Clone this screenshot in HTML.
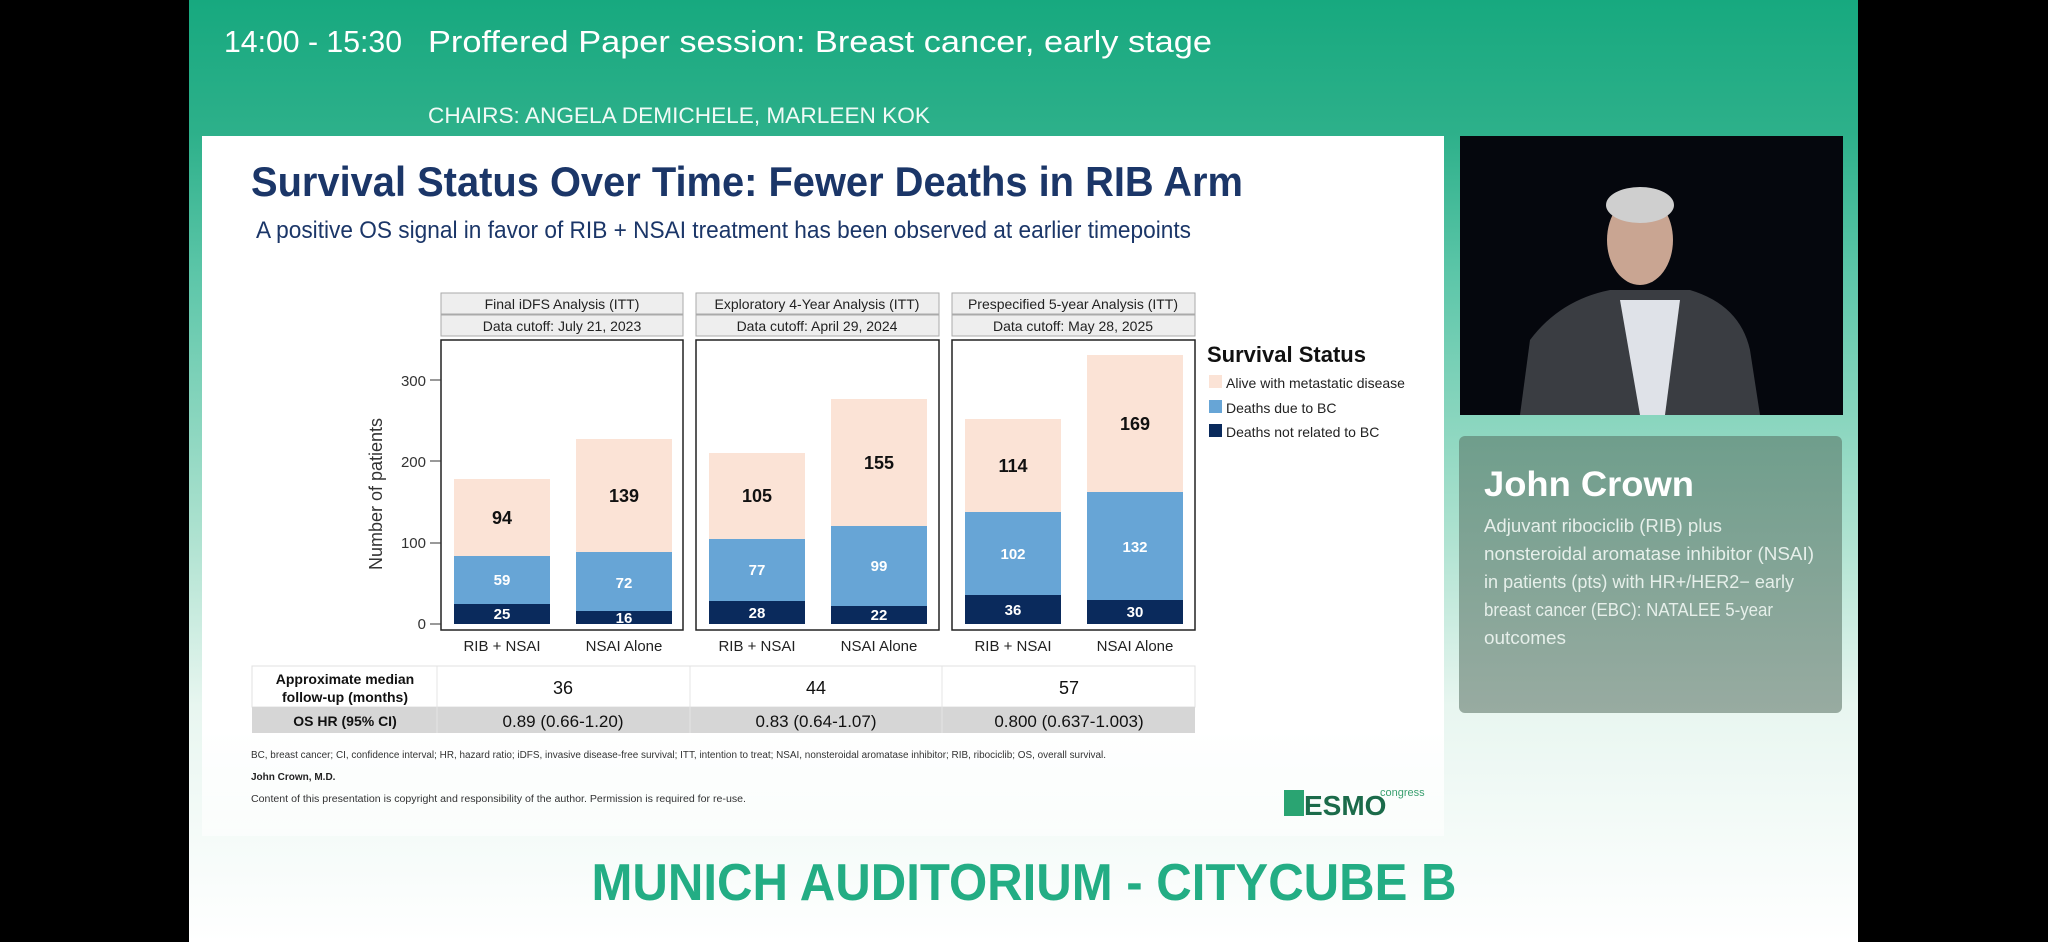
<!DOCTYPE html>
<html><head><meta charset="utf-8"><style>
html,body{margin:0;padding:0;width:2048px;height:942px;overflow:hidden;background:#000;font-family:"Liberation Sans",sans-serif}
</style></head><body>
<svg width="2048" height="942" xmlns="http://www.w3.org/2000/svg" font-family="Liberation Sans, sans-serif">
<defs>
<linearGradient id="bg" x1="0" y1="0" x2="0" y2="1">
<stop offset="0" stop-color="#17a97f"/><stop offset="0.14" stop-color="#2db08a"/><stop offset="0.3" stop-color="#5fc7aa"/><stop offset="0.55" stop-color="#a8e0cd"/><stop offset="0.75" stop-color="#e8f6f0"/><stop offset="1" stop-color="#ffffff"/>
</linearGradient>
<linearGradient id="card" x1="0" y1="0" x2="0" y2="1"><stop offset="0" stop-color="#6f9e8c"/><stop offset="1" stop-color="#98aba1"/></linearGradient>
<linearGradient id="slidefade" x1="0" y1="0" x2="0" y2="1"><stop offset="0.85" stop-color="#fff"/><stop offset="1" stop-color="#fff" stop-opacity="0.6"/></linearGradient>
</defs>
<rect x="189" y="0" width="1669" height="942" fill="url(#bg)"/>
<text x="224" y="52" font-size="31" fill="#fff" textLength="178" lengthAdjust="spacingAndGlyphs">14:00 - 15:30</text>
<text x="428" y="52" font-size="31" fill="#fff" textLength="784" lengthAdjust="spacingAndGlyphs">Proffered Paper session: Breast cancer, early stage</text>
<text x="428" y="123" font-size="22" fill="#f0faf6" textLength="502" lengthAdjust="spacingAndGlyphs">CHAIRS: ANGELA DEMICHELE, MARLEEN KOK</text>
<!-- slide -->
<rect x="202" y="136" width="1242" height="700" fill="url(#slidefade)"/>
<text x="251" y="196" font-size="42" font-weight="bold" fill="#1b3668" textLength="992" lengthAdjust="spacingAndGlyphs">Survival Status Over Time: Fewer Deaths in RIB Arm</text>
<text x="256" y="238" font-size="24" fill="#1b3668" textLength="935" lengthAdjust="spacingAndGlyphs">A positive OS signal in favor of RIB + NSAI treatment has been observed at earlier timepoints</text>
<!-- strips -->
<g font-size="14" fill="#222" text-anchor="middle" stroke-width="1">
<rect x="441" y="293" width="242" height="21" fill="#eee" stroke="#aaa"/><rect x="441" y="315" width="242" height="21" fill="#eee" stroke="#aaa"/>
<rect x="696" y="293" width="243" height="21" fill="#eee" stroke="#aaa"/><rect x="696" y="315" width="243" height="21" fill="#eee" stroke="#aaa"/>
<rect x="952" y="293" width="243" height="21" fill="#eee" stroke="#aaa"/><rect x="952" y="315" width="243" height="21" fill="#eee" stroke="#aaa"/>
<text x="562" y="309" stroke="none">Final iDFS Analysis (ITT)</text><text x="562" y="331" stroke="none">Data cutoff: July 21, 2023</text>
<text x="817" y="309" stroke="none">Exploratory 4-Year Analysis (ITT)</text><text x="817" y="331" stroke="none">Data cutoff: April 29, 2024</text>
<text x="1073" y="309" stroke="none">Prespecified 5-year Analysis (ITT)</text><text x="1073" y="331" stroke="none">Data cutoff: May 28, 2025</text>
</g>
<!-- bars -->
<g>
<rect x="454" y="479" width="96" height="77" fill="#fbe3d6"/><rect x="454" y="556" width="96" height="48" fill="#67a5d6"/><rect x="454" y="604" width="96" height="20" fill="#0a2a5c"/>
<rect x="576" y="439" width="96" height="113" fill="#fbe3d6"/><rect x="576" y="552" width="96" height="59" fill="#67a5d6"/><rect x="576" y="611" width="96" height="13" fill="#0a2a5c"/>
<rect x="709" y="453" width="96" height="86" fill="#fbe3d6"/><rect x="709" y="539" width="96" height="62" fill="#67a5d6"/><rect x="709" y="601" width="96" height="23" fill="#0a2a5c"/>
<rect x="831" y="399" width="96" height="127" fill="#fbe3d6"/><rect x="831" y="526" width="96" height="80" fill="#67a5d6"/><rect x="831" y="606" width="96" height="18" fill="#0a2a5c"/>
<rect x="965" y="419" width="96" height="93" fill="#fbe3d6"/><rect x="965" y="512" width="96" height="83" fill="#67a5d6"/><rect x="965" y="595" width="96" height="29" fill="#0a2a5c"/>
<rect x="1087" y="355" width="96" height="137" fill="#fbe3d6"/><rect x="1087" y="492" width="96" height="108" fill="#67a5d6"/><rect x="1087" y="600" width="96" height="24" fill="#0a2a5c"/>
</g>
<g fill="none" stroke="#222" stroke-width="1.5">
<rect x="441" y="340" width="242" height="290"/><rect x="696" y="340" width="243" height="290"/><rect x="952" y="340" width="243" height="290"/>
</g>
<g text-anchor="middle" font-weight="bold">
<g font-size="18" fill="#111"><text x="502" y="524">94</text><text x="624" y="502">139</text><text x="757" y="502">105</text><text x="879" y="469">155</text><text x="1013" y="472">114</text><text x="1135" y="430">169</text></g>
<g font-size="15" fill="#fff"><text x="502" y="585">59</text><text x="624" y="588">72</text><text x="757" y="575">77</text><text x="879" y="571">99</text><text x="1013" y="559">102</text><text x="1135" y="552">132</text>
<text x="502" y="619">25</text><text x="624" y="623">16</text><text x="757" y="618">28</text><text x="879" y="620">22</text><text x="1013" y="615">36</text><text x="1135" y="617">30</text></g>
</g>
<!-- axis -->
<g font-size="15" fill="#333" text-anchor="end">
<text x="426" y="629">0</text><text x="426" y="548">100</text><text x="426" y="467">200</text><text x="426" y="386">300</text>
</g>
<g stroke="#333"><line x1="430" y1="624" x2="441" y2="624"/><line x1="430" y1="543" x2="441" y2="543"/><line x1="430" y1="461" x2="441" y2="461"/><line x1="430" y1="380" x2="441" y2="380"/></g>
<text transform="translate(382,494) rotate(-90)" font-size="18" fill="#333" text-anchor="middle">Number of patients</text>
<g font-size="15" fill="#222" text-anchor="middle">
<text x="502" y="651">RIB + NSAI</text><text x="624" y="651">NSAI Alone</text>
<text x="757" y="651">RIB + NSAI</text><text x="879" y="651">NSAI Alone</text>
<text x="1013" y="651">RIB + NSAI</text><text x="1135" y="651">NSAI Alone</text>
</g>
<!-- legend -->
<text x="1207" y="362" font-size="22" font-weight="bold" fill="#111">Survival Status</text>
<rect x="1209" y="375" width="13" height="13" fill="#fbe3d6"/><text x="1226" y="388" font-size="14" fill="#222">Alive with metastatic disease</text>
<rect x="1209" y="400" width="13" height="13" fill="#67a5d6"/><text x="1226" y="413" font-size="14" fill="#222">Deaths due to BC</text>
<rect x="1209" y="424" width="13" height="13" fill="#0a2a5c"/><text x="1226" y="437" font-size="14" fill="#222">Deaths not related to BC</text>
<!-- table -->
<rect x="252" y="666" width="943" height="41" fill="#fff" stroke="#e0e0e0"/>
<rect x="252" y="707" width="943" height="26" fill="#d6d6d6"/>
<g stroke="#e4e4e4"><line x1="437" y1="666" x2="437" y2="733"/><line x1="690" y1="666" x2="690" y2="733"/><line x1="942" y1="666" x2="942" y2="733"/></g>
<g text-anchor="middle" fill="#111">
<text x="345" y="684" font-size="14" font-weight="bold">Approximate median</text><text x="345" y="702" font-size="14" font-weight="bold">follow-up (months)</text>
<text x="345" y="726" font-size="14" font-weight="bold">OS HR (95% CI)</text>
<text x="563" y="694" font-size="18">36</text><text x="816" y="694" font-size="18">44</text><text x="1069" y="694" font-size="18">57</text>
<text x="563" y="727" font-size="17">0.89 (0.66-1.20)</text><text x="816" y="727" font-size="17">0.83 (0.64-1.07)</text><text x="1069" y="727" font-size="17">0.800 (0.637-1.003)</text>
</g>
<text x="251" y="758" font-size="10" fill="#333" textLength="855" lengthAdjust="spacingAndGlyphs">BC, breast cancer; CI, confidence interval; HR, hazard ratio; iDFS, invasive disease-free survival; ITT, intention to treat; NSAI, nonsteroidal aromatase inhibitor; RIB, ribociclib; OS, overall survival.</text>
<text x="251" y="780" font-size="10" font-weight="bold" fill="#222">John Crown, M.D.</text>
<text x="251" y="802" font-size="10" fill="#333" textLength="495" lengthAdjust="spacingAndGlyphs">Content of this presentation is copyright and responsibility of the author. Permission is required for re-use.</text>
<rect x="1284" y="790" width="20" height="26" fill="#2aa472"/>
<text x="1304" y="815" font-size="28" font-weight="bold" fill="#1b6b4a">ESMO</text>
<text x="1380" y="796" font-size="11" fill="#3aa070">congress</text>
<!-- video -->
<rect x="1460" y="136" width="383" height="279" fill="#05070d"/>
<path d="M1520 415 L1530 340 Q1560 300 1610 290 L1690 290 Q1740 305 1750 350 L1760 415 Z" fill="#3a3d42"/>
<path d="M1620 300 L1640 415 L1665 415 L1680 300 Z" fill="#dfe2e8"/>
<ellipse cx="1640" cy="240" rx="33" ry="45" fill="#c9a592"/>
<ellipse cx="1640" cy="205" rx="34" ry="18" fill="#cfcfcf"/>
<!-- card -->
<rect x="1459" y="436" width="383" height="277" rx="6" fill="url(#card)"/>
<text x="1484" y="496" font-size="35" font-weight="bold" fill="#fff" textLength="210" lengthAdjust="spacingAndGlyphs">John Crown</text>
<g font-size="18" fill="#e6efea">
<text x="1484" y="532" textLength="238" lengthAdjust="spacingAndGlyphs">Adjuvant ribociclib (RIB) plus</text>
<text x="1484" y="560" textLength="330" lengthAdjust="spacingAndGlyphs">nonsteroidal aromatase inhibitor (NSAI)</text>
<text x="1484" y="588" textLength="310" lengthAdjust="spacingAndGlyphs">in patients (pts) with HR+/HER2− early</text>
<text x="1484" y="616" textLength="289" lengthAdjust="spacingAndGlyphs">breast cancer (EBC): NATALEE 5-year</text>
<text x="1484" y="644" textLength="82" lengthAdjust="spacingAndGlyphs">outcomes</text>
</g>
<text x="1024" y="900" font-size="52" font-weight="bold" fill="#23ad84" text-anchor="middle" textLength="865" lengthAdjust="spacingAndGlyphs">MUNICH AUDITORIUM - CITYCUBE B</text>
</svg>
</body></html>
